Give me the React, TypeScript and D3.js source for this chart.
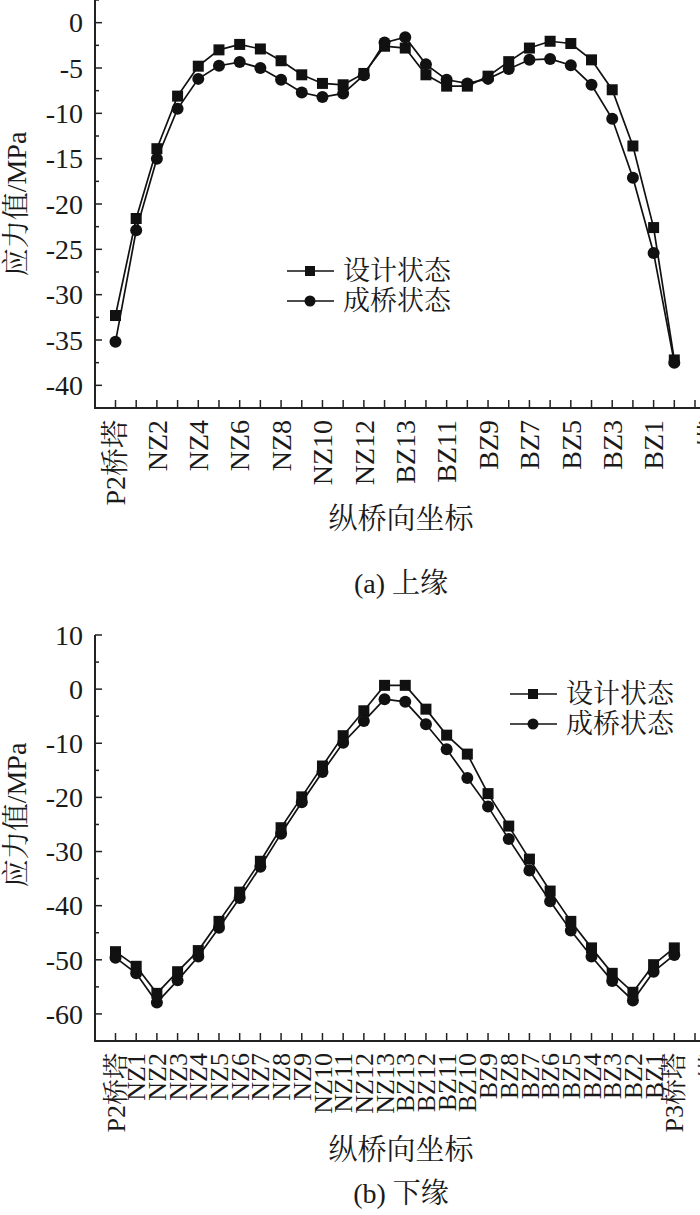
import React from "react";
import * as d3 from "d3";

// categories along the bridge
const categories = [
  "P2桥塔", "NZ1", "NZ2", "NZ3", "NZ4", "NZ5", "NZ6", "NZ7", "NZ8", "NZ9", "NZ10", "NZ11", "NZ12", "NZ13",
  "BZ13", "BZ12", "BZ11", "BZ10", "BZ9", "BZ8", "BZ7", "BZ6", "BZ5", "BZ4", "BZ3", "BZ2", "BZ1", "P3桥塔",
];
const overflowLabel = "塔"; // label of the extra tick, mostly cut off by the right edge

const seriesNames = ["设计状态", "成桥状态"];

// (a) 上缘
const topDesign = [-32.3, -21.6, -13.9, -8.1, -4.8, -3.0, -2.4, -2.9, -4.2, -5.75, -6.7, -6.85, -5.6, -2.6,
  -2.8, -5.75, -7.0, -7.0, -5.9, -4.3, -2.8, -2.05, -2.3, -4.1, -7.4, -13.6, -22.6, -37.2];
const topBuilt = [-35.2, -22.9, -15.0, -9.5, -6.2, -4.75, -4.35, -5.0, -6.3, -7.7, -8.2, -7.8, -5.8, -2.2,
  -1.6, -4.6, -6.3, -6.7, -6.2, -5.1, -4.1, -4.0, -4.7, -6.85, -10.6, -17.1, -25.4, -37.5];
const topTicks = [0, -5, -10, -15, -20, -25, -30, -35, -40];

// (b) 下缘
const botDesign = [-48.5, -51.2, -56.2, -52.2, -48.3, -42.9, -37.5, -31.8, -25.6, -19.9, -14.2, -8.6, -4.0, 0.7,
  0.7, -3.7, -8.5, -12.0, -19.3, -25.3, -31.4, -37.3, -42.9, -47.8, -52.5, -56.0, -50.9, -47.8];
const botBuilt = [-49.6, -52.5, -57.9, -53.8, -49.4, -44.1, -38.6, -32.8, -26.7, -20.9, -15.3, -9.9, -5.9, -1.85,
  -2.35, -6.5, -11.1, -16.4, -21.7, -27.7, -33.5, -39.2, -44.6, -49.4, -53.9, -57.5, -52.2, -49.1];
const botTicks = [10, 0, -10, -20, -30, -40, -50, -60];

const W = 700;
const H = 1215;
const FONT = "'Liberation Serif', 'Times New Roman', 'Noto Serif CJK SC', 'Noto Sans CJK SC', serif";

interface PanelProps {
  design: number[];
  built: number[];
  ticks: number[];
  yDomain: [number, number];
  yRange: [number, number]; // [bottom, top]
  minorStep: number;
  labelEvery: number;
  labelSize: number;
  yTitleY: number;
  xTitleY: number;
  caption: string;
  captionY: number;
  legend: { x: number; y: number };
}

const Panel = (p: PanelProps) => {
  const left = 95;
  const x = d3.scaleLinear([0, 28], [115.5, 695]);
  const y = d3.scaleLinear(p.yDomain, p.yRange);
  const x0 = p.yRange[0];
  const line = d3.line<number>((d, i) => x(i), (d) => y(d));
  const minor = d3.range(p.yDomain[0], p.yDomain[1] + 1e-6, p.minorStep).filter(
    (v) => !p.ticks.includes(v)
  );
  const labels = categories
    .map((c, i) => ({ c, i }))
    .filter((d) => d.i % p.labelEvery === 0);

  return (
    <g fontFamily={FONT} fill="#1a1a1a">
      {/* axes */}
      <line x1={left} x2={left} y1={p.yRange[1]} y2={x0} stroke="#222" strokeWidth={2} />
      <line x1={left - 1} x2={W} y1={x0} y2={x0} stroke="#222" strokeWidth={2} />
      {p.ticks.map((t) => (
        <g key={t}>
          <line x1={left} x2={left + 7} y1={y(t)} y2={y(t)} stroke="#222" strokeWidth={1.5} />
          <text x={83} y={y(t)} dy="0.35em" textAnchor="end" fontSize={28}>
            {t}
          </text>
        </g>
      ))}
      {minor.map((t) => (
        <line key={t} x1={left} x2={left + 4} y1={y(t)} y2={y(t)} stroke="#222" strokeWidth={1.5} />
      ))}
      {d3.range(0, 29).map((i) => (
        <line key={i} x1={x(i)} x2={x(i)} y1={x0} y2={x0 - 8} stroke="#222" strokeWidth={1.5} />
      ))}
      {labels.map((d) => (
        <text
          key={d.i}
          transform={`translate(${x(d.i)},${x0 + 12}) rotate(-90)`}
          dy="0.35em"
          textAnchor="end"
          fontSize={p.labelSize}
        >
          {d.c}
        </text>
      ))}
      {/* extra tick label beyond the last category, clipped by the picture edge */}
      <text
        transform={`translate(${x(28) + 16},${x0 + 12}) rotate(-90)`}
        dy="0.35em"
        textAnchor="end"
        fontSize={p.labelSize}
      >
        {overflowLabel}
      </text>
      <text
        transform={`translate(16,${p.yTitleY}) rotate(-90)`}
        dy="0.35em"
        textAnchor="middle"
        fontSize={28}
      >
        应力值/MPa
      </text>
      <text x={401} y={p.xTitleY} dy="0.35em" textAnchor="middle" fontSize={29}>
        纵桥向坐标
      </text>
      <text x={401} y={p.captionY} dy="0.35em" textAnchor="middle" fontSize={28}>
        {p.caption}
      </text>

      {/* series */}
      <path d={line(p.design) ?? ""} fill="none" stroke="#111" strokeWidth={1.7} />
      <path d={line(p.built) ?? ""} fill="none" stroke="#111" strokeWidth={1.7} />
      {p.design.map((v, i) => (
        <rect key={i} x={x(i) - 5.5} y={y(v) - 5.5} width={11} height={11} fill="#111" />
      ))}
      {p.built.map((v, i) => (
        <circle key={i} cx={x(i)} cy={y(v)} r={6} fill="#111" />
      ))}

      {/* legend */}
      {seriesNames.map((name, k) => {
        const ly = p.legend.y + k * 30;
        const mx = p.legend.x + 23;
        return (
          <g key={name}>
            <line x1={p.legend.x} x2={p.legend.x + 47} y1={ly} y2={ly} stroke="#111" strokeWidth={1.7} />
            {k === 0 ? (
              <rect x={mx - 5} y={ly - 5} width={10} height={10} fill="#111" />
            ) : (
              <circle cx={mx} cy={ly} r={5.5} fill="#111" />
            )}
            <text x={p.legend.x + 56} y={ly} dy="0.35em" fontSize={27}>
              {name}
            </text>
          </g>
        );
      })}
    </g>
  );
};

export default function App() {
  return (
    <>
      <style>{"body{margin:0}"}</style>
      <svg width={W} height={H} style={{ display: "block", background: "#fff" }}>
        <Panel
          design={topDesign}
          built={topBuilt}
          ticks={topTicks}
          yDomain={[-42.5, 2.5]}
          yRange={[408, 0]}
          minorStep={2.5}
          labelEvery={2}
          labelSize={28}
          yTitleY={204}
          xTitleY={519}
          caption="(a) 上缘"
          captionY={583}
          legend={{ x: 287, y: 271 }}
        />
        <Panel
          design={botDesign}
          built={botBuilt}
          ticks={botTicks}
          yDomain={[-65, 10]}
          yRange={[1041, 635]}
          minorStep={5}
          labelEvery={1}
          labelSize={26}
          yTitleY={815}
          xTitleY={1150}
          caption="(b) 下缘"
          captionY={1193}
          legend={{ x: 510, y: 694 }}
        />
      </svg>
    </>
  );
}
